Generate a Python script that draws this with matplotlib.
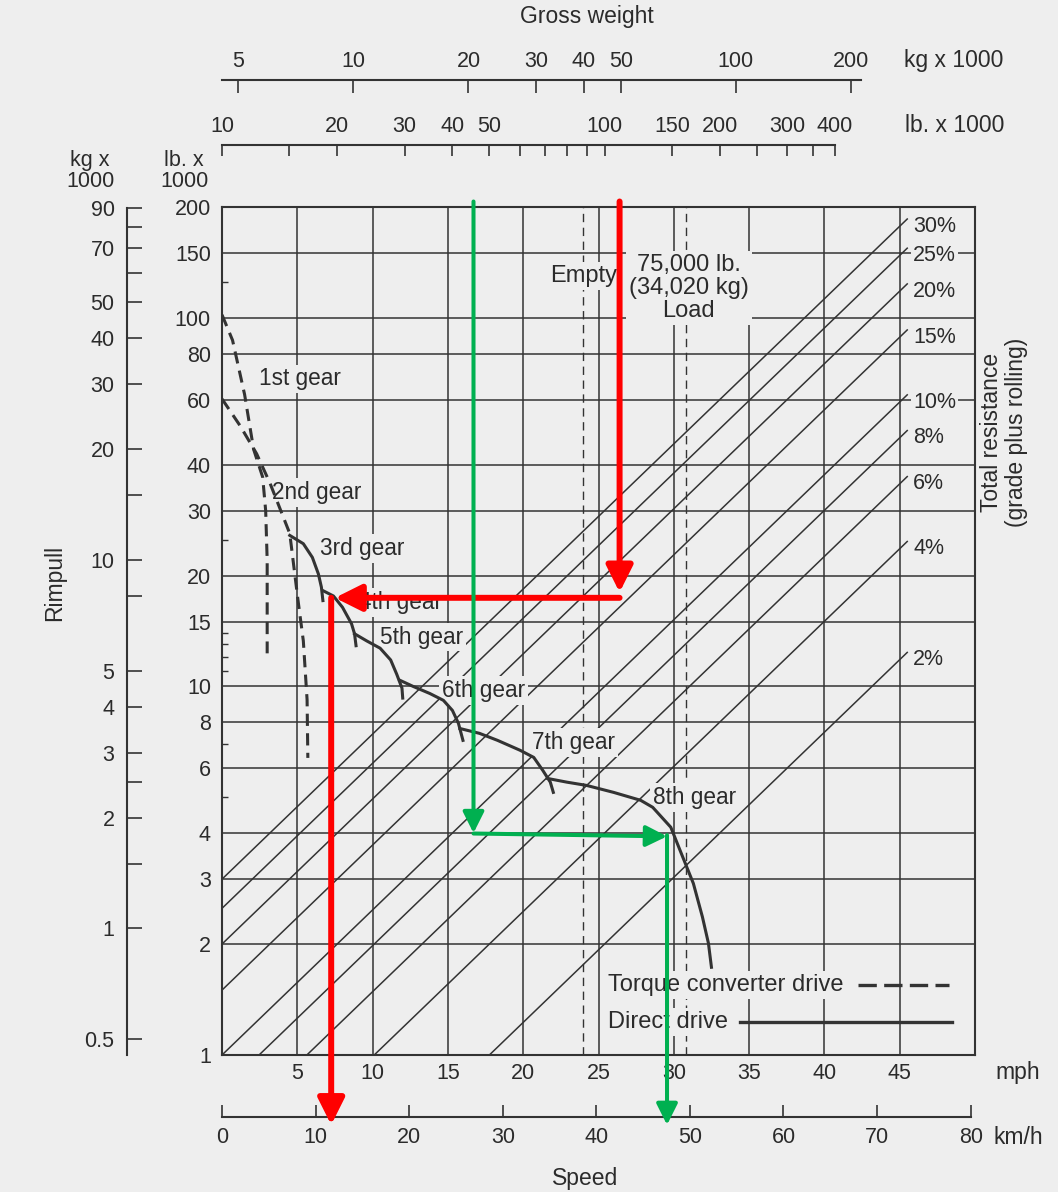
"""Rimpull / speed / gradeability chart for a hauler, redrawn from a scanned page.
Speed in mph on x, rimpull in lb x 1000 on a log y-axis, gross weight on
a log scale across the top, with the red/green worked-example arrows."""

import numpy as np
import matplotlib
matplotlib.use("Agg")
import matplotlib.pyplot as plt
from matplotlib.ticker import FixedLocator, NullLocator, NullFormatter

plt.rcParams["font.family"] = ["Liberation Sans", "DejaVu Sans"]

BG = "#eeeeee"
INK = "#333333"
TXT = "#2b2b2b"
FS = 15.5      # tick labels, percentages
FS_G = 16.3    # gear labels
FS_L = 17      # load block and legend
FS_T = 16.5    # axis titles

# %% Scales
MPH_PER_DECADE = 25.4      # one decade of gross weight spans this many mph
W_AT_ZERO = 10.0           # gross weight (lb x 1000) at the left edge
LB_PER_KG = 2.2046
KMH_PER_MPH = 1.609344


def mph_to_lb(m):
    return W_AT_ZERO * 10 ** (np.asarray(m, dtype=float) / MPH_PER_DECADE)


def lb_to_mph(w):
    w = np.clip(np.asarray(w, dtype=float), 1e-6, None)
    return MPH_PER_DECADE * np.log10(w / W_AT_ZERO)


# %% Data (speed mph, rimpull lb x 1000)
G1_MPH = [0.0, 0.7, 1.5, 2.1, 2.7, 2.9, 3.0, 3.0]
G1_LB = [102, 87, 62, 44, 37, 30, 22, 12.3]
G2_MPH = [0.0, 1.2, 2.3, 3.2, 4.5, 5.05, 5.4, 5.65, 5.7]
G2_LB = [60.3, 51, 42.8, 35.5, 26.0, 17.1, 13.3, 9.2, 6.4]
G3_MPH = [4.5, 5.4, 6.0, 6.4, 6.6, 6.7]
G3_LB = [25.7, 24.4, 22.4, 20.2, 18.6, 17.1]
G4_MPH = [6.7, 7.4, 8.0, 8.6, 8.8, 8.9]
G4_LB = [18.2, 17.6, 16.4, 14.8, 13.9, 12.9]
G5_MPH = [8.8, 9.6, 10.5, 11.2, 11.6, 11.95, 12.0]
G5_LB = [13.9, 13.3, 12.7, 11.8, 10.8, 9.9, 9.3]
G6_MPH = [11.8, 12.7, 13.8, 14.7, 15.3, 15.7, 16.0]
G6_LB = [10.4, 10.0, 9.57, 9.17, 8.61, 7.94, 7.14]
G7_MPH = [15.8, 17.1, 18.3, 19.8, 20.7, 21.3, 21.8, 22.0]
G7_LB = [7.69, 7.46, 7.14, 6.71, 6.42, 5.92, 5.50, 5.16]
G8_MPH = [21.6, 22.9, 24.2, 26.0, 27.8, 28.6, 29.8, 30.6, 31.3, 31.9, 32.3, 32.5]
G8_LB = [5.63, 5.50, 5.39, 5.16, 4.91, 4.70, 4.15, 3.44, 2.92, 2.37, 2.01, 1.73]
GEAR_DASHED = [True, True, False, False, False, False, False, False]

GEAR_NAMES = ["1st gear", "2nd gear", "3rd gear", "4th gear",
              "5th gear", "6th gear", "7th gear", "8th gear"]
GEAR_LABEL_MPH = [2.45, 3.3, 6.5, 9.1, 10.5, 14.6, 20.6, 28.6]
GEAR_LABEL_LB = [68.3, 33.6, 23.7, 16.9, 13.6, 9.75, 7.05, 5.0]

RESIST_PCT = [30, 25, 20, 15, 10, 8, 6, 4, 2]

EMPTY_LB = 88       # empty gross weight, lb x 1000
LOADED_LB = 163     # empty + 75,000 lb load

MPH_TICKS = [5, 10, 15, 20, 25, 30, 35, 40, 45]
KMH_TICKS = [0, 10, 20, 30, 40, 50, 60, 70, 80]
LB_TICKS = [200, 150, 100, 80, 60, 40, 30, 20, 15, 10, 8, 6, 4, 3, 2, 1]
LB_MINOR = [125, 25, 14, 13, 12, 11, 7, 5]
GRID_LB = [150, 100, 80, 60, 40, 30, 20, 15, 10, 8, 6, 4, 3, 2]
KG_TICKS = [90, 80, 70, 60, 50, 40, 30, 20, 15, 10, 8, 5, 4, 3, 2.5, 2, 1.5, 1, 0.5]
KG_LABELS = ["90", "", "70", "", "50", "40", "30", "20", "", "10", "", "5",
             "4", "3", "", "2", "", "1", "0.5"]
TOP_LB_TICKS = [10, 15, 20, 30, 40, 50, 60, 70, 80, 90, 100,
                150, 200, 250, 300, 350, 400]
TOP_LB_LABELS = ["10", "", "20", "30", "40", "50", "", "", "", "", "100",
                 "150", "200", "", "300", "", "400"]
TOP_KG_TICKS = [5, 10, 20, 30, 40, 50, 100, 200]

# worked example overlays: (start mph, start lb, end mph, end lb)
RED_X0 = [26.4, 26.4, 7.25]
RED_Y0 = [207, 17.4, 17.4]
RED_X1 = [26.4, 7.5, 7.25]
RED_Y1 = [18.0, 17.4, 0.646]
GREEN_X0 = [16.7, 16.7, 29.55]
GREEN_Y0 = [207, 3.99, 3.95]
GREEN_X1 = [16.7, 29.55, 29.55]
GREEN_Y1 = [4.0, 3.92, 0.646]


# %% Figure
W_PX, H_PX = 1058, 1192


def fx(x):
    return x / W_PX


def fy(y):
    return 1 - y / H_PX


fig = plt.figure(figsize=(W_PX / 100, H_PX / 100), dpi=100, facecolor=BG)
ax = fig.add_axes([fx(222), fy(1055), (975 - 222) / W_PX, (1055 - 207) / H_PX])
ax.set_facecolor(BG)
ax.set_xlim(0, 50)
ax.set_yscale("log")
ax.set_ylim(1, 200)
for s in ax.spines.values():
    s.set_linewidth(1.5)
    s.set_color(INK)

# grid
for v in GRID_LB:
    ax.axhline(v, color=INK, lw=1.1, zorder=1)
for m in MPH_TICKS:
    ax.axvline(m, color=INK, lw=1.1, zorder=1)
for w in [EMPTY_LB, LOADED_LB]:
    ax.axvline(lb_to_mph(w), color=INK, lw=1.0, dashes=(6, 4), zorder=1)

# total resistance diagonals: rimpull = weight * pct
for p in RESIST_PCT:
    m0 = max(0.0, float(lb_to_mph(100.0 / p)))
    m1 = 45.5
    ax.plot([m0, m1], [mph_to_lb(m0) * p / 100, mph_to_lb(m1) * p / 100],
            color=INK, lw=1.1, zorder=1)
    ax.text(45.9, mph_to_lb(45) * p / 100, f"{p}%", fontsize=FS, color=TXT,
            ha="left", va="center", zorder=3,
            bbox=dict(boxstyle="square,pad=0.1", fc=BG, ec="none"))

# gear curves
gears = [(G1_MPH, G1_LB), (G2_MPH, G2_LB), (G3_MPH, G3_LB), (G4_MPH, G4_LB),
         (G5_MPH, G5_LB), (G6_MPH, G6_LB), (G7_MPH, G7_LB), (G8_MPH, G8_LB)]
for (gm, gl), dashed in zip(gears, GEAR_DASHED):
    if dashed:
        ax.plot(gm, gl, color=INK, lw=2.2, dashes=(4, 2.4), zorder=4)
    else:
        ax.plot(gm, gl, color=INK, lw=2.2, zorder=4, solid_joinstyle="round")

box = dict(boxstyle="square,pad=0.12", fc=BG, ec="none")
for name, lm, ll in zip(GEAR_NAMES, GEAR_LABEL_MPH, GEAR_LABEL_LB):
    ax.text(lm, ll, name, fontsize=FS_G, color=TXT, ha="left", va="center",
            zorder=3, bbox=box)

ax.text(24.0, 130, "Empty", fontsize=FS_L, color=TXT, ha="center", va="center",
        zorder=3, bbox=box)
ax.text(31.0, 120.6, "75,000 lb.\n(34,020 kg)\nLoad", fontsize=FS_L, color=TXT,
        ha="center", va="center", linespacing=1.05, zorder=3, bbox=box)

# legend
ax.text(25.6, 1.55, "Torque converter drive", fontsize=FS_L, color=TXT,
        ha="left", va="center", zorder=3, bbox=box)
ax.text(25.6, 1.23, "Direct drive", fontsize=FS_L, color=TXT,
        ha="left", va="center", zorder=3, bbox=box)
ax.plot([42.2, 48.3], [1.55, 1.55], color=INK, lw=2.4, dashes=(5.5, 2.2), zorder=4)
ax.plot([34.4, 48.5], [1.23, 1.23], color=INK, lw=2.4, zorder=4)

# ticks on the main axes
ax.set_yticks(LB_TICKS)
ax.set_yticklabels([f"{v:g}" for v in LB_TICKS])
ax.yaxis.set_minor_locator(FixedLocator(LB_MINOR))
ax.yaxis.set_minor_formatter(NullFormatter())
ax.tick_params(axis="y", which="major", length=0, pad=8, labelsize=FS, labelcolor=TXT)
ax.tick_params(axis="y", which="minor", direction="in", length=4.5, width=1.0, color=INK)
ax.set_xticks(MPH_TICKS)
ax.set_xticklabels([str(v) for v in MPH_TICKS])
ax.tick_params(axis="x", length=0, pad=6, labelsize=FS, labelcolor=TXT)

# km/h scale below
km = ax.secondary_xaxis(-0.073, functions=(lambda m: m * KMH_PER_MPH,
                                           lambda k: k / KMH_PER_MPH))
km.set_ticks(KMH_TICKS, [str(v) for v in KMH_TICKS])
km.tick_params(direction="in", length=9, width=1.2, pad=7, labelsize=FS,
               colors=INK, labelcolor=TXT)
km.spines["bottom"].set_bounds(0, 80)
km.spines["bottom"].set_linewidth(1.5)
km.spines["bottom"].set_color(INK)

# gross weight scales on top
top_lb = ax.secondary_xaxis((1055 - 145) / 848, functions=(mph_to_lb, lb_to_mph))
top_lb.set_ticks(TOP_LB_TICKS, TOP_LB_LABELS)
top_lb.xaxis.set_minor_locator(NullLocator())
top_lb.tick_params(direction="in", length=8, width=1.2, pad=6, labelsize=FS,
                   colors=INK, labelcolor=TXT)
top_lb.spines["top"].set_bounds(10, 400)
top_lb.spines["top"].set_linewidth(1.5)
top_lb.spines["top"].set_color(INK)

top_kg = ax.secondary_xaxis((1055 - 80) / 848,
                            functions=(lambda m: mph_to_lb(m) / LB_PER_KG,
                                       lambda k: lb_to_mph(np.asarray(k) * LB_PER_KG)))
top_kg.set_ticks(TOP_KG_TICKS, [str(v) for v in TOP_KG_TICKS])
top_kg.xaxis.set_minor_locator(NullLocator())
top_kg.tick_params(direction="in", length=9, width=1.2, pad=6, labelsize=FS,
                   colors=INK, labelcolor=TXT)
top_kg.spines["top"].set_bounds(W_AT_ZERO / LB_PER_KG, 213)
top_kg.spines["top"].set_linewidth(1.5)
top_kg.spines["top"].set_color(INK)

# kg rimpull scale on the left
kg = ax.secondary_yaxis((127 - 222) / 753, functions=(lambda v: v / LB_PER_KG,
                                                      lambda k: k * LB_PER_KG))
kg.set_ticks(KG_TICKS, KG_LABELS)
kg.yaxis.set_minor_locator(NullLocator())
kg.tick_params(direction="in", length=11, width=1.2, pad=9, labelsize=FS,
               colors=INK, labelcolor=TXT)
kg.spines["left"].set_bounds(1 / LB_PER_KG, 90)
kg.spines["left"].set_linewidth(1.5)
kg.spines["left"].set_color(INK)

# worked example arrows
def arrow(x0, y0, x1, y1, color, lw, ms):
    ax.annotate("", xy=(x1, y1), xytext=(x0, y0), annotation_clip=False,
                arrowprops=dict(arrowstyle="-|>", color=color, lw=lw,
                                shrinkA=0, shrinkB=0, mutation_scale=ms),
                zorder=8)


for a, b, c, d in zip(RED_X0, RED_Y0, RED_X1, RED_Y1):
    arrow(a, b, c, d, "#ff0000", 4.3, 40)
for a, b, c, d in zip(GREEN_X0, GREEN_Y0, GREEN_X1, GREEN_Y1):
    arrow(a, b, c, d, "#00b050", 2.9, 32)

# free text
fig.text(fx(587), fy(16), "Gross weight", fontsize=FS_T, color=TXT, ha="center", va="center")
fig.text(fx(954), fy(61), "kg x 1000", fontsize=FS_T, color=TXT, ha="center", va="center")
fig.text(fx(955), fy(125), "lb. x 1000", fontsize=FS_T, color=TXT, ha="center", va="center")
fig.text(fx(90), fy(171), "kg x\n1000", fontsize=FS, color=TXT, ha="center",
         va="center", linespacing=1.0)
fig.text(fx(184), fy(171), "lb. x\n1000", fontsize=FS, color=TXT, ha="center",
         va="center", linespacing=1.0)
fig.text(fx(55), fy(583), "Rimpull", fontsize=FS_T, color=TXT, rotation=90,
         ha="center", va="center")
fig.text(fx(1004), fy(432), "Total resistance\n(grade plus rolling)", fontsize=FS_T,
         color=TXT, rotation=90, ha="center", va="center", linespacing=1.15)
fig.text(fx(1018), fy(1073), "mph", fontsize=FS_T, color=TXT, ha="center", va="center")
fig.text(fx(1018), fy(1137), "km/h", fontsize=FS_T, color=TXT, ha="center", va="center")
fig.text(fx(585), fy(1178), "Speed", fontsize=FS_T, color=TXT, ha="center", va="center")

fig.savefig("out.png", dpi=100, facecolor=BG)
